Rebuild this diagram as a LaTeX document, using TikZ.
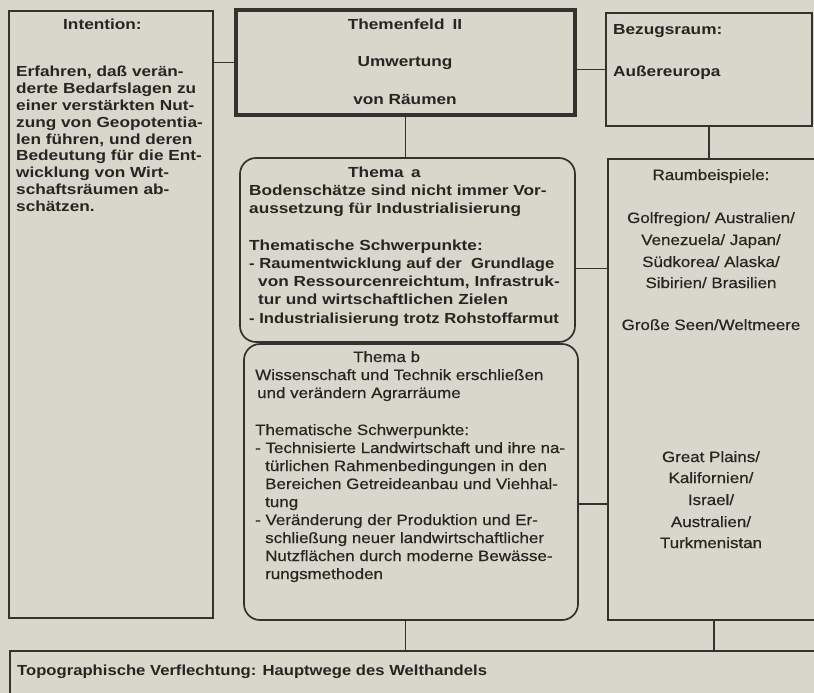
\documentclass[tikz,border=0pt]{standalone}
\usepackage{fontspec}
\usetikzlibrary{calc}
\newfontfamily\boldsans{Liberation Sans}[FakeStretch=1.18]
\newfontfamily\boldsansnarrow{Liberation Sans}[FakeStretch=1.14]
\newfontfamily\plainsans{Liberation Sans}[FakeStretch=1.13, FakeBold=0.5]
\definecolor{paper}{RGB}{217,215,203}
\definecolor{ink}{RGB}{52,50,46}
\definecolor{print}{RGB}{38,37,34}

\tikzset{
  frame/.style={draw=ink, line width=1.7pt, inner sep=0pt, outer sep=0pt, anchor=north west},
  heavyframe/.style={frame, line width=3.6pt},
  roundframe/.style={frame, rounded corners=16pt},
  link/.style={draw=ink, line width=1.6pt},
  bl/.style={font=\boldsans\bfseries\fontsize{14.6}{17}\selectfont, text=print, inner sep=0pt, anchor=base west},
  bln/.style={bl, font=\boldsansnarrow\bfseries\fontsize{14.6}{17}\selectfont},
  bc/.style={bl, anchor=base},
  pl/.style={font=\plainsans\fontsize{15}{17}\selectfont, text=print, inner sep=0pt, anchor=base west},
  pc/.style={pl, anchor=base},
}

\begin{document}
\begin{tikzpicture}[x=1pt,y=-1pt]
\useasboundingbox (0,0) rectangle (814,693);
\clip (0,0) rectangle (814,693);
\fill[paper] (0,0) rectangle (814,693);

% frames
\node[frame, minimum width=204pt, minimum height=607pt] (intent) at (9,11) {};
\node[heavyframe, minimum width=339pt, minimum height=105pt] (field) at (236,10) {};
\node[frame, minimum width=206pt, minimum height=113pt] (ref) at (606,13) {};
\node[frame, minimum width=212pt, minimum height=461pt] (space) at (608,159) {};
\node[roundframe, minimum width=335pt, minimum height=184pt] (topa) at (240,158) {};
\node[roundframe, minimum width=334pt, minimum height=276pt] (topb) at (244,344) {};
\node[frame, minimum width=820pt, minimum height=60pt] (trade) at (10,651) {};

% connectors
\draw[link] (field.west) -- (field.west -| intent.east);
\draw[link] (ref.west -| field.east) -- (ref.west);
\draw[link] (field.south) -- (field.south |- topa.north);
\draw[link] (ref.south) -- (ref.south |- space.north);
\coordinate (ja) at ($(topa.south east)!0.4!(topa.north east)$);
\draw[link] (ja) -- (ja -| space.west);
\coordinate (jb) at ($(topb.south east)!0.42!(topb.north east)$);
\draw[link] (jb) -- (jb -| space.west);
\draw[link] (topb.south -| field.south) -- (trade.north -| field.south);
\draw[link] (space.south) -- (space.south |- trade.north);

% intention
\node[bl] (i0) at (63,30) {Intention:};
\node[bl] (i1) at (16,77) {Erfahren, daß verän-};
\node[bl] (i2) at (16,93.75) {derte Bedarfslagen zu};
\node[bl] (i3) at (16,110.5) {einer verstärkten Nut-};
\node[bl] (i4) at (16,127.25) {zung von Geopotentia-};
\node[bl] (i5) at (16,144) {len führen, und deren};
\node[bl] (i6) at (16,160.75) {Bedeutung für die Ent-};
\node[bl] (i7) at (16,177.5) {wicklung von Wirt-};
\node[bl] (i8) at (16,194.25) {schaftsräumen ab-};
\node[bl] (i9) at (16,211) {schätzen.};

% theme field
\node[bc] (f1) at (405,29.5) {Themenfeld\hspace{0.55em}II};
\node[bc] (f2) at (405,66.5) {Umwertung};
\node[bc] (f3) at (405,104) {von Räumen};

% reference area
\node[bl] (r1) at (613,35) {Bezugsraum:};
\node[bl] (r2) at (613,77) {Außereuropa};

% topic a
\node[bl] (a0) at (348,177) {Thema\hspace{0.5em}a};
\node[bl] (a1) at (249,195) {Bodenschätze sind nicht immer Vor-};
\node[bl] (a2) at (249,213) {aussetzung für Industrialisierung};
\node[bl] (a3) at (249,250) {Thematische Schwerpunkte:};
\node[bln] (a4) at (249,268) {- Raumentwicklung auf der\ \ Grundlage};
\node[bl] (a5) at (258,286) {von Ressourcenreichtum, Infrastruk-};
\node[bl] (a6) at (258,304) {tur und wirtschaftlichen Zielen};
\node[bln] (a7) at (249,323) {- Industrialisierung trotz Rohstoffarmut};

% topic b
\node[pl] (b0) at (353,362) {Thema b};
\node[pl] (b1) at (255,380) {Wissenschaft und Technik erschließen};
\node[pl] (b2) at (257,398) {und verändern Agrarräume};
\node[pl] (b3) at (255,435) {Thematische Schwerpunkte:};
\node[pl] (b4) at (255,453) {- Technisierte Landwirtschaft und ihre na-};
\node[pl] (b5) at (265,471) {türlichen Rahmenbedingungen in den};
\node[pl] (b6) at (265,489) {Bereichen Getreideanbau und Viehhal-};
\node[pl] (b7) at (265,507) {tung};
\node[pl] (b8) at (255,525) {- Veränderung der Produktion und Er-};
\node[pl] (b9) at (265,543) {schließung neuer landwirtschaftlicher};
\node[pl] (b10) at (265,561) {Nutzflächen durch moderne Bewässe-};
\node[pl] (b11) at (265,579) {rungsmethoden};

% example regions
\node[pc] (s0) at (711,180) {Raumbeispiele:};
\node[pc] (s1) at (711,223) {Golfregion/ Australien/};
\node[pc] (s2) at (711,245) {Venezuela/ Japan/};
\node[pc] (s3) at (711,267) {Südkorea/ Alaska/};
\node[pc] (s4) at (711,288) {Sibirien/ Brasilien};
\node[pc] (s5) at (711,330) {Große Seen/Weltmeere};
\node[pc] (s6) at (711,462) {Great Plains/};
\node[pc] (s7) at (711,483) {Kalifornien/};
\node[pc] (s8) at (711,505) {Israel/};
\node[pc] (s9) at (711,527) {Australien/};
\node[pc] (s10) at (711,548) {Turkmenistan};

% trade routes
\node[bln] (t0) at (17,675) {Topographische Verflechtung: Hauptwege des Welthandels};
\end{tikzpicture}
\end{document}
